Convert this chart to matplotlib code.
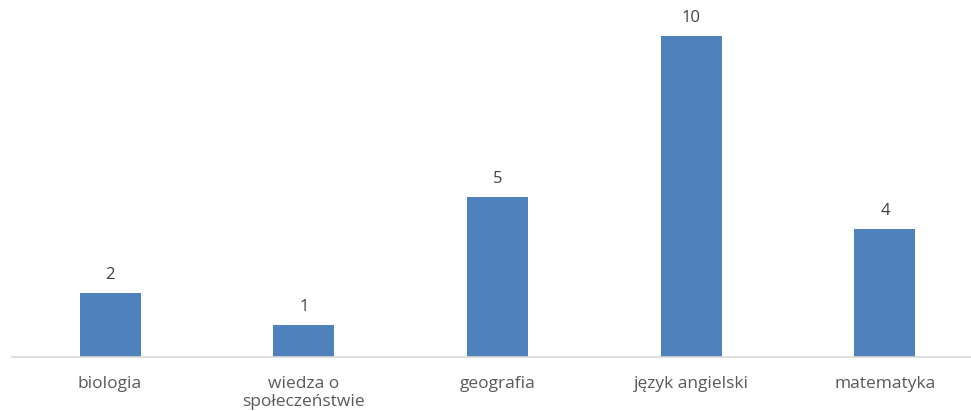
import matplotlib.pyplot as plt

categories = ['biologia', 'wiedza o\nspołeczeństwie', 'geografia', 'język angielski', 'matematyka']
values = [2, 1, 5, 10, 4]

plt.rcParams['font.family'] = ['Open Sans', 'DejaVu Sans']

fig = plt.figure(figsize=(9.71, 4.11), dpi=100)
ax = fig.add_axes([0, 54 / 411, 1, 353 / 411])

x = list(range(len(categories)))
bars = ax.bar(x, values, width=0.315, color='#4F81BD', zorder=2)

for xi, v in zip(x, values):
    ax.text(xi, v + 0.3, str(v), ha='center', va='bottom', fontsize=12, color='#404040')

ax.set_xlim(-0.568, 4.444)
ax.set_ylim(0, 11)
ax.set_xticks(x)
ax.set_xticklabels(categories, fontsize=12.5, color='#595959', linespacing=1.15)
ax.tick_params(axis='x', length=0, pad=14)
ax.set_yticks([])
for side in ['top', 'right', 'left']:
    ax.spines[side].set_visible(False)
ax.spines['bottom'].set_color('#D9D9D9')
ax.spines['bottom'].set_linewidth(1.2)
ax.spines['bottom'].set_bounds(-0.505, 4.444)

fig.savefig('out.png', dpi=100)
plt.close(fig)
